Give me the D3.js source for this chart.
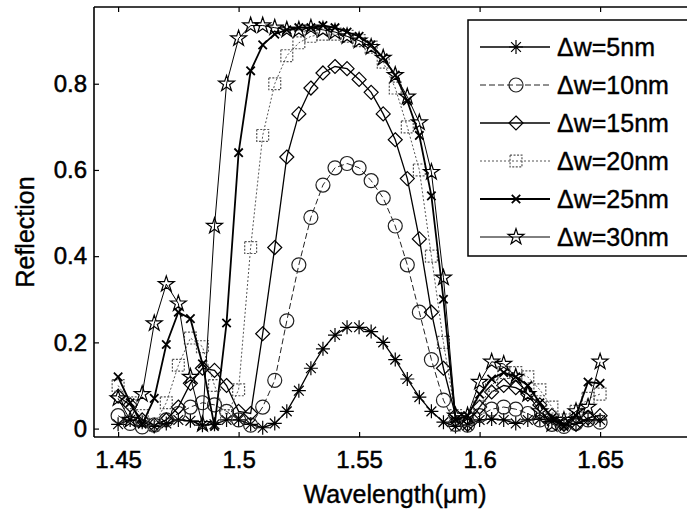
<html>
<head>
<meta charset="utf8">
<title>Reflection spectra</title>
<style>
body { margin:0; background:white; }
#chart { width:687px; height:509px; }
text { font-family: "Liberation Sans", Arial, sans-serif; }
</style>
<script src="https://cdn.jsdelivr.net/npm/d3@7"></script>
</head>
<body>
<div id="chart"></div>
<script>
var width = 687, height = 509;

// wavelength samples (um)
var wl = [1.45, 1.455, 1.46, 1.465, 1.47, 1.475, 1.48, 1.485, 1.49, 1.495,
          1.5, 1.505, 1.51, 1.515, 1.52, 1.525, 1.53, 1.535, 1.54, 1.545,
          1.55, 1.555, 1.56, 1.565, 1.57, 1.575, 1.58, 1.585, 1.59, 1.595,
          1.6, 1.605, 1.61, 1.615, 1.62, 1.625, 1.63, 1.635, 1.64, 1.645, 1.65];

// reflection for each grating width step
var r5 = [0.01, 0.02, 0.015, 0.005, 0.012, 0.02, 0.018, 0.008, 0.01, 0.02,
          0.02, 0.01, 0.002, 0.012, 0.04, 0.088, 0.14, 0.185, 0.217, 0.235,
          0.235, 0.225, 0.2, 0.16, 0.115, 0.073, 0.04, 0.015, 0.005, 0.008,
          0.02, 0.022, 0.02, 0.012, 0.02, 0.022, 0.018, 0.01, 0.012, 0.02, 0.02];
var r10 = [0.03, 0.012, 0.004, 0.008, 0.02, 0.035, 0.05, 0.06, 0.055, 0.04,
           0.02, 0.008, 0.05, 0.112, 0.25, 0.38, 0.49, 0.565, 0.605, 0.615,
           0.605, 0.575, 0.535, 0.47, 0.38, 0.27, 0.16, 0.066, 0.01, 0.008,
           0.03, 0.045, 0.05, 0.045, 0.035, 0.02, 0.01, 0.005, 0.012, 0.02, 0.015];
var r15 = [0.075, 0.055, 0.02, 0.008, 0.02, 0.05, 0.105, 0.14, 0.135, 0.1,
           0.04, 0.035, 0.22, 0.42, 0.63, 0.73, 0.79, 0.825, 0.84, 0.835,
           0.81, 0.78, 0.73, 0.67, 0.58, 0.44, 0.27, 0.14, 0.03, 0.01,
           0.05, 0.085, 0.1, 0.095, 0.08, 0.055, 0.03, 0.01, 0.01, 0.025, 0.03];
var r20 = [0.1, 0.06, 0.03, 0.01, 0.06, 0.147, 0.21, 0.19, 0.1, 0.03,
           0.09, 0.42, 0.68, 0.8, 0.865, 0.895, 0.91, 0.915, 0.915, 0.91,
           0.9, 0.885, 0.85, 0.79, 0.7, 0.6, 0.4, 0.2, 0.03, 0.02,
           0.05, 0.1, 0.13, 0.13, 0.12, 0.09, 0.05, 0.02, 0.04, 0.07, 0.08];
var r25 = [0.12, 0.06, 0.01, 0.07, 0.195, 0.27, 0.255, 0.15, 0.005, 0.245,
           0.64, 0.83, 0.89, 0.915, 0.925, 0.93, 0.93, 0.935, 0.93, 0.92,
           0.91, 0.89, 0.86, 0.82, 0.76, 0.68, 0.54, 0.3, 0.02, 0.03,
           0.08, 0.115, 0.13, 0.12, 0.1, 0.06, 0.025, 0.005, 0.03, 0.108, 0.105];
var r30 = [0.07, 0.02, 0.08, 0.244, 0.335, 0.29, 0.12, 0.01, 0.47, 0.8,
           0.905, 0.935, 0.935, 0.93, 0.925, 0.925, 0.93, 0.925, 0.92, 0.91,
           0.9, 0.885, 0.86, 0.82, 0.77, 0.71, 0.595, 0.35, 0.03, 0.03,
           0.108, 0.155, 0.15, 0.12, 0.08, 0.04, 0.01, 0.02, 0.04, 0.05, 0.155];

var labels = ["\u0394w=5nm", "\u0394w=10nm", "\u0394w=15nm", "\u0394w=20nm", "\u0394w=25nm", "\u0394w=30nm"];
var xTicks = [1.45, 1.5, 1.55, 1.6, 1.65];
var yTicks = [0, 0.2, 0.4, 0.6, 0.8];

var series = [
  { name: labels[0], vals: r5,  marker: "asterisk", dash: null,  color: "#000", lw: 1.3 },
  { name: labels[1], vals: r10, marker: "circle",   dash: "6,3", color: "#222", lw: 1 },
  { name: labels[2], vals: r15, marker: "diamond",  dash: null,  color: "#000", lw: 1.3 },
  { name: labels[3], vals: r20, marker: "square",   dash: "2,2", color: "#555", lw: 1 },
  { name: labels[4], vals: r25, marker: "cross",    dash: null,  color: "#000", lw: 1.8 },
  { name: labels[5], vals: r30, marker: "star",     dash: null,  color: "#000", lw: 1 }
];

// plot box (right side runs off the picture)
var plotLeft = 94, plotTop = 7, plotBottom = 437;
var x = d3.scaleLinear().domain([1.44, 1.69]).range([plotLeft, plotLeft + 0.25 * 2410]);
var y = d3.scaleLinear().domain([-0.0195, 0.978]).range([plotBottom, plotTop]);

var svg = d3.select("#chart").append("svg")
    .attr("width", width).attr("height", height);

svg.append("rect").attr("width", width).attr("height", height).attr("fill", "white");

// marker shapes
function markerPath(type, s) {
  if (type === "asterisk") {
    var a = s * 0.7;
    return "M" + (-s) + ",0L" + s + ",0M0," + (-s) + "L0," + s +
           "M" + (-a) + "," + (-a) + "L" + a + "," + a + "M" + (-a) + "," + a + "L" + a + "," + (-a);
  }
  if (type === "cross") {
    var c = s * 0.6;
    return "M" + (-c) + "," + (-c) + "L" + c + "," + c + "M" + (-c) + "," + c + "L" + c + "," + (-c);
  }
  if (type === "diamond") {
    return "M0," + (-s) + "L" + s + ",0L0," + s + "L" + (-s) + ",0Z";
  }
  if (type === "square") {
    var q = s * 0.85;
    return "M" + (-q) + "," + (-q) + "H" + q + "V" + q + "H" + (-q) + "Z";
  }
  if (type === "circle") {
    return d3.symbol(d3.symbolCircle, Math.PI * s * s)();
  }
  return d3.symbol(d3.symbolStar, s * s * 1.6)();
}

function drawMarker(g, type, cx, cy, color) {
  var p = g.append("path")
    .attr("d", markerPath(type, 7))
    .attr("transform", "translate(" + cx + "," + cy + ")")
    .attr("fill", "none")
    .attr("stroke", color)
    .attr("stroke-width", type === "cross" ? 1.8 : 1.2);
  if (type === "square") p.attr("stroke-dasharray", "2,1.5");
}

var plot = svg.append("g");

var line = d3.line()
    .x(function(d, i) { return x(wl[i]); })
    .y(function(d) { return y(d); });

series.forEach(function(s) {
  var g = plot.append("g");
  g.append("path")
    .attr("d", line(s.vals))
    .attr("fill", "none")
    .attr("stroke", s.color)
    .attr("stroke-width", s.lw)
    .attr("stroke-dasharray", s.dash);
  s.vals.forEach(function(v, i) {
    drawMarker(g, s.marker, x(wl[i]), y(v), s.color);
  });
});

// axes box: left, bottom and top lines, ticks inside
var axisColor = "#000";
svg.append("line").attr("x1", plotLeft).attr("x2", plotLeft).attr("y1", plotTop).attr("y2", plotBottom)
  .attr("stroke", axisColor).attr("stroke-width", 1.6);
svg.append("line").attr("x1", plotLeft).attr("x2", width).attr("y1", plotBottom).attr("y2", plotBottom)
  .attr("stroke", axisColor).attr("stroke-width", 1.6);
svg.append("line").attr("x1", plotLeft).attr("x2", width).attr("y1", plotTop).attr("y2", plotTop)
  .attr("stroke", axisColor).attr("stroke-width", 1.6);

var xAxis = d3.axisBottom(x).tickValues(xTicks).tickSize(-5).tickPadding(14)
    .tickFormat(function(d) { return String(d); });
var gx = svg.append("g").attr("transform", "translate(0," + plotBottom + ")").call(xAxis);
gx.select(".domain").remove();

var xTop = d3.axisTop(x).tickValues(xTicks).tickSize(-5).tickFormat("");
var gxt = svg.append("g").attr("transform", "translate(0," + plotTop + ")").call(xTop);
gxt.select(".domain").remove();

var yAxis = d3.axisLeft(y).tickValues(yTicks).tickSize(-5).tickPadding(7)
    .tickFormat(function(d) { return String(d); });
var gy = svg.append("g").attr("transform", "translate(" + plotLeft + ",0)").call(yAxis);
gy.select(".domain").remove();

svg.selectAll(".tick line").attr("stroke", axisColor).attr("stroke-width", 1.2);
svg.selectAll(".tick text")
  .attr("font-family", "'Liberation Sans', Arial, sans-serif")
  .attr("font-size", 24)
  .attr("fill", "#000")
  .attr("stroke", "#000").attr("stroke-width", 0.5);

// axis titles
svg.append("text")
  .attr("x", 395).attr("y", 503)
  .attr("text-anchor", "middle")
  .attr("font-size", 25)
  .attr("stroke", "#000").attr("stroke-width", 0.4)
  .text("Wavelength(\u03bcm)");

svg.append("text")
  .attr("transform", "translate(34,232) rotate(-90)")
  .attr("text-anchor", "middle")
  .attr("font-size", 25)
  .attr("stroke", "#000").attr("stroke-width", 0.4)
  .text("Reflection");

// legend
var lgX = 468, lgY = 20, lgH = 236, rowY0 = 47, rowStep = 38;
var legend = svg.append("g");
legend.append("rect")
  .attr("x", lgX).attr("y", lgY)
  .attr("width", width - lgX + 5).attr("height", lgH)
  .attr("fill", "white").attr("stroke", "#000").attr("stroke-width", 1.5);

series.forEach(function(s, i) {
  var ry = rowY0 + i * rowStep;
  legend.append("line")
    .attr("x1", 480).attr("x2", 550).attr("y1", ry).attr("y2", ry)
    .attr("stroke", s.color).attr("stroke-width", s.lw)
    .attr("stroke-dasharray", s.dash);
  drawMarker(legend, s.marker, 516, ry, s.color);
  legend.append("text")
    .attr("x", 557).attr("y", ry + 9)
    .attr("font-size", 25)
    .attr("stroke", "#000").attr("stroke-width", 0.4)
    .text(s.name);
});
</script>
</body>
</html>
